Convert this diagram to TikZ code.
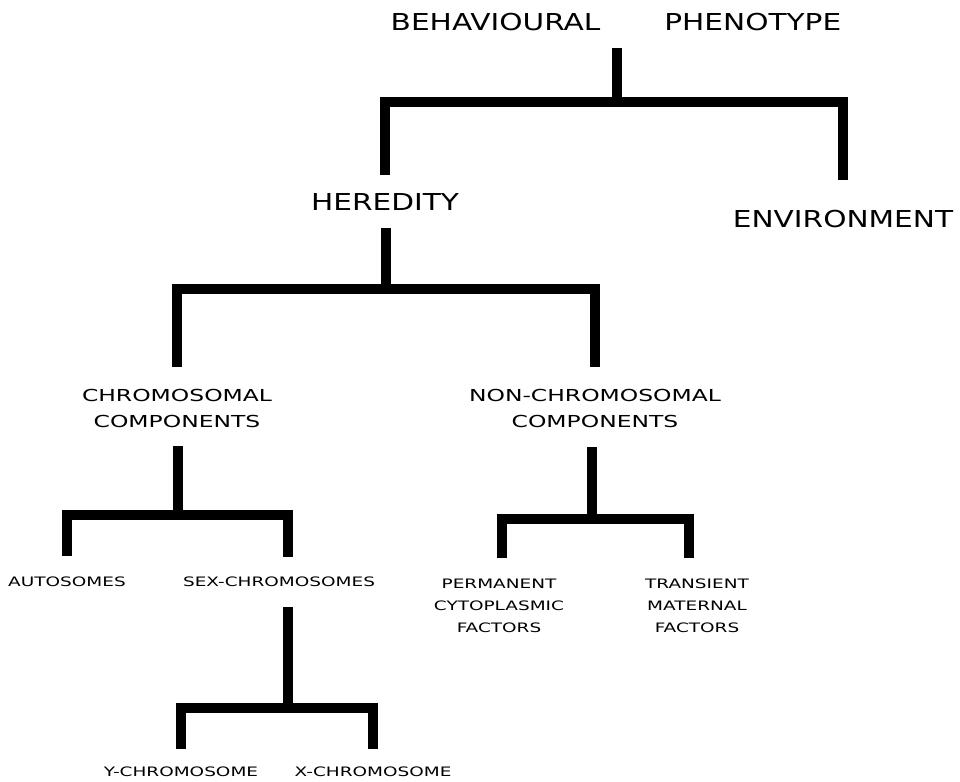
\documentclass[tikz,border=0pt]{standalone}
\usepackage{fontspec}
\newfontfamily\headfont[FakeStretch=1.27]{DejaVu Sans}
\newfontfamily\labelfont[FakeStretch=1.42]{DejaVu Sans}

\begin{document}
\begin{tikzpicture}[x=1pt,y=-1pt,
    branch/.style={line width=9.5pt,line join=miter},
    headlabel/.style={inner sep=0pt,font=\headfont\fontsize{23.3}{28}\selectfont},
    midlabel/.style={inner sep=0pt,align=center,font=\labelfont\fontsize{16.5}{26}\selectfont},
    lowlabel/.style={inner sep=0pt,align=center,font=\labelfont\fontsize{13}{22}\selectfont}]

    \useasboundingbox (0,0) rectangle (960,781);

    % labels
    \node[headlabel] (phen) at (616,22) {BEHAVIOURAL\hspace{64pt}PHENOTYPE};
    \node[headlabel] (her) at (385,202) {HEREDITY};
    \node[headlabel] (env) at (843,219) {ENVIRONMENT};

    \node[midlabel] (chr) at (177,408) {CHROMOSOMAL\\COMPONENTS};
    \node[midlabel] (non) at (595,408) {NON-CHROMOSOMAL\\COMPONENTS};

    \node[lowlabel] (auto) at (67,582) {AUTOSOMES};
    \node[lowlabel] (sex) at (279,582) {SEX-CHROMOSOMES};
    \node[lowlabel] (perm) at (499,606) {PERMANENT\\CYTOPLASMIC\\FACTORS};
    \node[lowlabel] (tran) at (697,606) {TRANSIENT\\MATERNAL\\FACTORS};

    \node[lowlabel] (ych) at (181,772) {Y-CHROMOSOME};
    \node[lowlabel] (xch) at (373,772) {X-CHROMOSOME};

    % forks
    \coordinate (f1) at (617,102);
    \coordinate (f2) at (386,289);
    \coordinate (f3) at (178,515);
    \coordinate (f4) at (592,519);
    \coordinate (f5) at (288,708);

    \draw[branch, shorten <=16.5pt] (phen.south -| f1) -- (f1);
    \draw[branch, shorten <=18.5pt, shorten >=29.5pt] (her.north) |- (f1) -| (env.north);

    \draw[branch, shorten <=17.5pt] (her.south -| f2) -- (f2);
    \draw[branch, shorten <=22pt, shorten >=22pt] (chr.north) |- (f2) -| (non.north);

    \draw[branch, shorten <=19pt] (chr.south -| f3) -- (f3);
    \draw[branch, shorten <=21pt, shorten >=20pt] (auto.north) |- (f3) -| ([xshift=9pt]sex.north);

    \draw[branch, shorten <=20pt] (non.south -| f4) -- (f4);
    \draw[branch, shorten <=21pt, shorten >=21pt] ([xshift=3pt]perm.north) |- (f4) -| ([xshift=-8pt]tran.north);

    \draw[branch, shorten <=20pt] (sex.south -| f5) -- (f5);
    \draw[branch, shorten <=18pt, shorten >=18pt] (ych.north) |- (f5) -| (xch.north);
\end{tikzpicture}
\end{document}
